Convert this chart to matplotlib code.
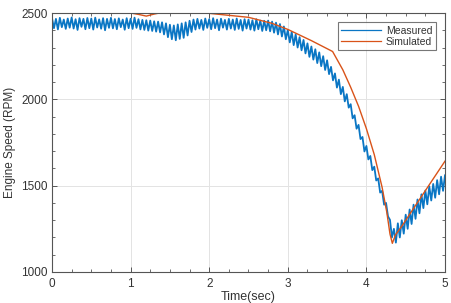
import numpy as np
import matplotlib
matplotlib.use("Agg")
import matplotlib.pyplot as plt
from matplotlib.ticker import MultipleLocator

plt.rcParams['font.family'] = ['Liberation Sans', 'DejaVu Sans']

measured_rpm = [
    2470, 2412, 2466, 2405, 2472, 2418, 2462, 2408, 2468, 2415,
    2474, 2410, 2464, 2402, 2470, 2420, 2466, 2406, 2471, 2412,
    2468, 2404, 2473, 2416, 2463, 2409, 2470, 2400, 2466, 2414,
    2472, 2411, 2465, 2406, 2469, 2418, 2462, 2403, 2470, 2412,
    2467, 2408, 2473, 2414, 2464, 2405, 2460, 2402, 2458, 2398,
    2456, 2396, 2452, 2392, 2450, 2388, 2446, 2376, 2440, 2360,
    2432, 2348, 2428, 2342, 2434, 2350, 2440, 2356, 2446, 2370,
    2455, 2390, 2462, 2404, 2466, 2410, 2460, 2402, 2468, 2414,
    2464, 2406, 2470, 2412, 2462, 2400, 2467, 2415, 2460, 2404,
    2466, 2410, 2462, 2402, 2468, 2408, 2460, 2398, 2464, 2410,
    2462, 2404, 2458, 2398, 2464, 2406, 2456, 2396, 2455, 2400,
    2456, 2394, 2450, 2386, 2444, 2376, 2436, 2364, 2422, 2348,
    2402, 2330, 2390, 2314, 2376, 2300, 2360, 2284, 2344, 2266,
    2324, 2246, 2306, 2230, 2290, 2210, 2272, 2192, 2250, 2170,
    2226, 2146, 2188, 2110, 2150, 2068, 2114, 2030, 2072, 1988,
    2030, 1952, 1972, 1890, 1908, 1830, 1852, 1770, 1782, 1698,
    1730, 1652, 1672, 1590, 1610, 1530, 1542, 1460, 1470, 1390,
    1400, 1322, 1302, 1200, 1250, 1170, 1282, 1200, 1300, 1222,
    1332, 1250, 1362, 1278, 1390, 1308, 1420, 1340, 1450, 1370,
    1472, 1392, 1496, 1414, 1510, 1430, 1532, 1450, 1552, 1470,
    1560,
]
measured_time = np.arange(len(measured_rpm)) * 0.025

# Simulated engine speed
sim_time = [0.0, 1.0, 1.1, 1.2, 1.3, 1.4, 1.9, 2.0, 2.5, 2.8, 3.0, 3.3, 3.57,
            3.7, 3.8, 3.9, 4.0, 4.1, 4.2, 4.26, 4.3, 4.33, 4.37, 4.45, 4.7, 5.0]
sim_rpm = [2500, 2500, 2492, 2482, 2494, 2503, 2503, 2498, 2475, 2440, 2405,
           2340, 2277, 2171, 2070, 1960, 1830, 1680, 1490, 1345, 1220, 1166,
           1215, 1265, 1437, 1642]

x_ticks = [0, 1, 2, 3, 4, 5]
y_ticks = [1000, 1500, 2000, 2500]

fig = plt.figure(figsize=(4.52, 3.03), dpi=100)
ax = fig.add_axes([52 / 452, 1 - 272 / 303, (445 - 52) / 452, (272 - 13) / 303])

ax.plot(measured_time, measured_rpm, color='#0a76c4', lw=1.3, label='Measured')
ax.plot(sim_time, sim_rpm, color='#D95319', lw=1.0, label='Simulated')

ax.set_xlim(0, 5)
ax.set_ylim(1000, 2500)
ax.set_xticks(x_ticks)
ax.set_yticks(y_ticks)
ax.xaxis.set_minor_locator(MultipleLocator(0.25))
ax.yaxis.set_minor_locator(MultipleLocator(100))
ax.tick_params(which='both', direction='in', top=True, right=True,
               color='#555555', labelsize=8.5, labelcolor='#333333')
ax.tick_params(which='major', length=3.5, width=0.7)
ax.tick_params(which='minor', length=2, width=0.6)
ax.tick_params(axis='x', pad=4)
ax.tick_params(axis='y', pad=3)
ax.grid(True, which='major', color='#e3e3e3', lw=0.7)
ax.set_axisbelow(True)
for s in ax.spines.values():
    s.set_color('#555555')
    s.set_linewidth(0.8)

ax.set_xlabel('Time(sec)', fontsize=9, color='#333333', labelpad=1)
ax.set_ylabel('Engine Speed (RPM)', fontsize=8.5, color='#333333', labelpad=4)

leg = ax.legend(loc='upper right', fontsize=7.5, frameon=True, fancybox=False,
                handlelength=3.8, borderaxespad=0.9, borderpad=0.3,
                labelspacing=0.15, handletextpad=0.5)
leg.get_frame().set_edgecolor('#555555')
leg.get_frame().set_linewidth(0.8)
for h in leg.get_lines():
    h.set_linewidth(0.9)
for t in leg.get_texts():
    t.set_color('#333333')

fig.savefig('out.png', dpi=100)
